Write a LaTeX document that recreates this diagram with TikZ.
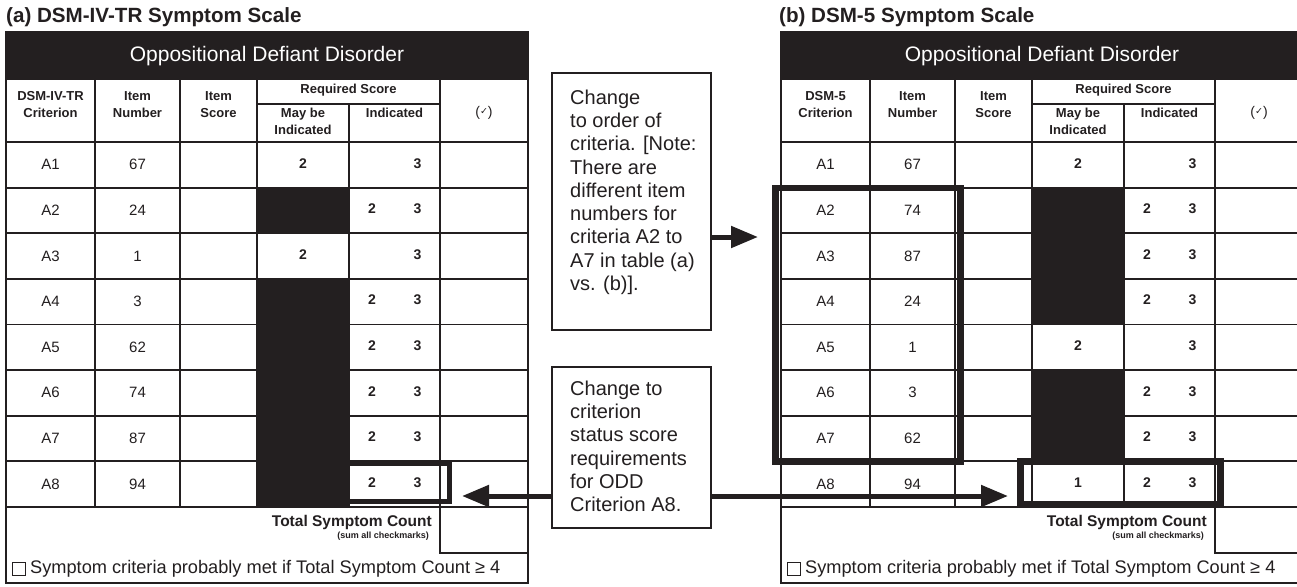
\documentclass[tikz,border=0pt]{standalone}
\usepackage{fontspec}
\setmainfont{Liberation Sans}
\newfontfamily\dejavu{DejaVu Sans}
\usetikzlibrary{arrows.meta}
\definecolor{ink}{HTML}{231F20}
\tikzset{
  grid/.style={draw=ink, line width=1.8pt},
  hl/.style={draw=ink, line width=6.5pt},
  headtitle/.style={font=\fontsize{21}{24}\selectfont, text=white, inner sep=0},
  cell/.style={font=\fontsize{15}{17}\selectfont, text=ink, inner sep=0},
  num/.style={font=\bfseries\fontsize{14}{16}\selectfont, text=ink, inner sep=0},
  hdr/.style={font=\bfseries\fontsize{13}{17}\selectfont, text=ink, align=center, inner sep=0},
  titletxt/.style={font=\bfseries\fontsize{20.6}{24}\selectfont, text=ink, inner sep=0, anchor=west},
  totaltxt/.style={font=\bfseries\fontsize{15.5}{18}\selectfont, text=ink, inner sep=0, anchor=east},
  sumtxt/.style={font=\bfseries\fontsize{9}{10}\selectfont, text=ink, inner sep=0, anchor=east},
  mettxt/.style={font=\fontsize{18.2}{20}\selectfont, text=ink, inner sep=0, anchor=west},
  notebox/.style={draw=ink, line width=1.3pt, fill=white, inner sep=0},
  notetxt/.style={font=\fontsize{20}{23.3}\selectfont, text=ink, align=left, inner sep=0, anchor=north west},
  bigarrow/.style={draw=ink, line width=5pt, -{Triangle[length=27pt,width=21pt]}},
}
\newcommand{\oddtable}[4]{%
\begin{scope}[shift={(#1,0)}]
  \fill[ink] (6,32) rectangle (528,79);
  \node[headtitle] (#2-head) at (267,56) {Oppositional Defiant Disorder};
  \foreach \r/\crit/\inum/\may/\two/\bk in {#4}{%
    \pgfmathsetmacro{\yt}{142+45.6*(\r-1)}%
    \pgfmathsetmacro{\yc}{\yt+22.8}%
    \ifnum\bk=1 \fill[ink] (257,\yt) rectangle (349,\yt+45.6);\fi
    \node[cell] (#2-crit-\r) at (50.5,\yc) {\crit};
    \node[cell] (#2-item-\r) at (137.5,\yc) {\inum};
    \node[num] (#2-may-\r) at (303,\yc-1.5) {\may};
    \node[num] (#2-two-\r) at (372,\yc-1.5) {\two};
    \node[num] (#2-three-\r) at (417.5,\yc-1.5) {3};
  }
  \draw[grid] (6,32) rectangle (528,583);
  \draw[grid] (6,79) -- (528,79);
  \draw[grid] (257,104) -- (440,104);
  \foreach \k in {0,...,8} \draw[grid] (6,142+45.6*\k) -- (528,142+45.6*\k);
  \foreach \xx in {95,180,257,440} \draw[grid] (\xx,79) -- (\xx,506.8);
  \draw[grid] (349,104) -- (349,506.8);
  \draw[grid] (440,506.8) -- (440,553) -- (528,553);
  \node[hdr] (#2-h1) at (50.5,104.5) {#3\\Criterion};
  \node[hdr] (#2-h2) at (137.5,104.5) {Item\\Number};
  \node[hdr] (#2-h3) at (218.5,104.5) {Item\\Score};
  \node[hdr] (#2-h4) at (348.5,90.5) {Required Score};
  \node[hdr] (#2-h5) at (303,121.5) {May be\\Indicated};
  \node[hdr] (#2-h6) at (394.5,113) {Indicated};
  \node[hdr, font=\fontsize{14}{16}\selectfont] (#2-h7) at (484,113) {(\raisebox{2.5pt}{\dejavu\fontsize{9.5}{10}\selectfont ✓})};
  \node[totaltxt] (#2-total) at (432,522) {Total Symptom Count};
  \node[sumtxt] (#2-sum) at (429,536) {(sum all checkmarks)};
  \draw[ink, line width=1.5pt] (12.5,562.5) rectangle (25.5,575.5);
  \node[mettxt] (#2-met) at (30,569) {Symptom criteria probably met if Total Symptom Count ≥ 4};
\end{scope}}
\begin{document}
\begin{tikzpicture}[x=1pt, y=-1pt]
\useasboundingbox (0,0) rectangle (1297,586);
\clip (0,0) rectangle (1297,586);
\fill[white] (0,0) rectangle (1297,586);
\node[titletxt] (ta) at (6,17) {(a) DSM-IV-TR Symptom Scale};
\node[titletxt] (tb) at (779,17) {(b) DSM-5 Symptom Scale};
\oddtable{0}{L}{DSM-IV-TR}{1/A1/67/2/{}/0, 2/A2/24/{}/2/1, 3/A3/1/2/{}/0, 4/A4/3/{}/2/1, 5/A5/62/{}/2/1, 6/A6/74/{}/2/1, 7/A7/87/{}/2/1, 8/A8/94/{}/2/1}
\oddtable{775}{R}{DSM-5}{1/A1/67/2/{}/0, 2/A2/74/{}/2/1, 3/A3/87/{}/2/1, 4/A4/24/{}/2/1, 5/A5/1/2/{}/0, 6/A6/3/{}/2/1, 7/A7/62/{}/2/1, 8/A8/94/1/2/0}
% highlight boxes
\draw[hl, line width=5.5pt] (347,463.5) rectangle (449.5,501.5);
\draw[hl] (775.5,188) rectangle (960.5,461.5);
\draw[hl] (1020.5,461.5) rectangle (1220.5,504);
% note boxes
\node[notebox, minimum width=159pt, minimum height=257pt] (box1) at (631.5,201.5) {};
\node[notetxt] (box1t) at (570,89.5) {Change\\to order of\\criteria. [Note:\\There are\\different item\\numbers for\\criteria A2 to\\A7 in table (a)\\vs. (b)].};
\node[notebox, minimum width=159pt, minimum height=161pt] (box2) at (631.5,447.5) {};
\node[notetxt] (box2t) at (570,380.5) {Change to\\criterion\\status score\\requirements\\for ODD\\Criterion A8.};
% arrows
\coordinate (a1tip) at (758,237);
\coordinate (a2l) at (462,496);
\coordinate (a2r) at (1008,496);
\draw[bigarrow] (box1.east |- a1tip) -- (a1tip);
\draw[bigarrow] (box2.west |- a2l) -- (a2l);
\draw[bigarrow] (box2.east |- a2r) -- (a2r);
\end{tikzpicture}
\end{document}
